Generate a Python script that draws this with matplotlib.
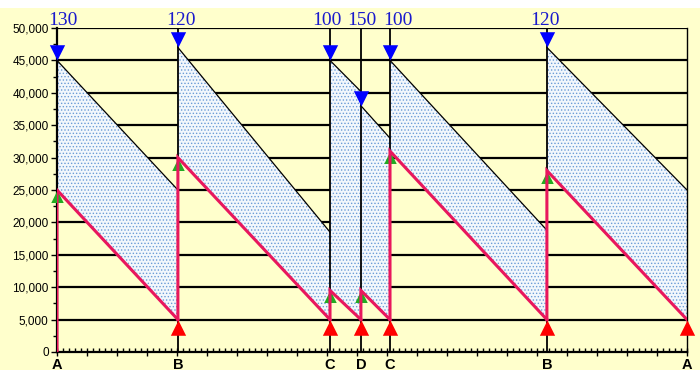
import matplotlib.pyplot as plt
from matplotlib.patches import Rectangle
from matplotlib.ticker import MultipleLocator, FuncFormatter
from matplotlib.transforms import offset_copy

# event positions along the x axis and their labels
event_x = [0, 40.3, 91, 101.3, 111, 163.3, 210]
event_labels = ['A', 'B', 'C', 'D', 'C', 'B', 'A']

# order quantity shown above each replenishment
order_labels = ['130', '120', '100', '150', '100', '120']

# upper line (start value at event i, end value at event i+1)
top_start = [45000, 47000, 45000, 38000, 45000, 47000]
top_end = [25000, 18500, 40200, 33000, 18800, 25000]

# red stock line
red_start = [25000, 30000, 9500, 9500, 31000, 28000]
red_end = [5000, 5000, 5000, 5000, 5000, 5000]

yellow = '#ffffcc'
red = '#e8175d'

plt.rcParams['hatch.linewidth'] = 0.6

fig = plt.figure(figsize=(7, 3.82), dpi=100)
fig.patch.set_facecolor('white')
fig.patches.append(Rectangle((0, 12 / 382), 1, 362 / 382, transform=fig.transFigure,
                             facecolor=yellow, edgecolor='none', zorder=-10))
ax = fig.add_axes([57 / 700, 1 - 352 / 382, 630 / 700, 324 / 382])
ax.set_facecolor(yellow)

ax.set_xlim(event_x[0], event_x[-1])
ax.set_ylim(0, 50000)

# horizontal grid
for v in range(5000, 50001, 5000):
    ax.axhline(v, color='black', lw=1.6, zorder=1)

# shaded bands
for i in range(len(top_start)):
    x0, x1 = event_x[i], event_x[i + 1]
    ax.fill_between([x0, x1], [red_start[i], red_end[i]], [top_start[i], top_end[i]],
                    facecolor='#f2f7fc', edgecolor='#6a9bd6', hatch='.....', lw=0, zorder=2)
    ax.plot([x0, x1], [top_start[i], top_end[i]], color='black', lw=0.9, zorder=3)

# vertical event lines
ax.vlines(event_x[1:-1], 0, 50000, color='black', lw=1.3, zorder=3)

# red stock line with vertical jumps
for i in range(len(red_start)):
    x0, x1 = event_x[i], event_x[i + 1]
    base = 0 if i == 0 else red_end[i - 1]
    ax.plot([x0, x0, x1], [base, red_start[i], red_end[i]], color=red, lw=2.2,
            solid_joinstyle='miter', zorder=4)

up_tri = [(0, 0), (-1, -2), (1, -2)]
down_tri = [(0, 0), (-1, 2), (1, 2)]

ax.plot(event_x[1:], red_end, ls='none', marker=up_tri, ms=22, color='#ff0000',
        mec='none', zorder=6, clip_on=False)
ax.plot(event_x[:-1], red_start, ls='none', marker=up_tri, ms=18, color='#22aa22',
        mec='none', zorder=3.5, clip_on=False)
ax.plot(event_x[:-1], top_start, ls='none', marker=down_tri, ms=22, color='#0000ff',
        mec='none', zorder=6, clip_on=False)

# small horizontal nudges (points) so the crowded labels do not collide
nudge = [4, 2, -2, 1, 6, -1.5]
for x, lab, dx in zip(event_x[:-1], order_labels, nudge):
    tr = offset_copy(ax.get_xaxis_transform(), fig=fig, x=dx, y=0, units='points')
    ax.text(x, 1.009, lab, transform=tr, ha='center', va='baseline',
            fontsize=14, color='#1a1acc', family='Liberation Serif')

for x, lab in zip(event_x, event_labels):
    ax.text(x, -0.02, lab, transform=ax.get_xaxis_transform(), ha='center', va='top',
            fontsize=10.5, fontweight='bold', family='Liberation Sans')

# axes styling
for s in ['left', 'bottom', 'right']:
    ax.spines[s].set_color('black')
ax.spines['left'].set_linewidth(1.6)
ax.spines['bottom'].set_linewidth(1.6)
ax.spines['right'].set_linewidth(1.0)
ax.spines['top'].set_visible(False)

ax.yaxis.set_major_locator(MultipleLocator(5000))
ax.yaxis.set_minor_locator(MultipleLocator(2500))
ax.yaxis.set_major_formatter(FuncFormatter(lambda v, p: f'{int(v):,}'))
ax.tick_params(axis='y', which='major', length=4, width=1, pad=2, labelsize=8.5)
ax.tick_params(axis='y', which='minor', length=3, width=1)
for t in ax.get_yticklabels():
    t.set_family('Liberation Sans')

ax.xaxis.set_major_locator(MultipleLocator(10))
ax.xaxis.set_minor_locator(MultipleLocator(2))
ax.tick_params(axis='x', which='major', direction='inout', length=6, width=1, labelbottom=False)
ax.tick_params(axis='x', which='minor', direction='in', length=3, width=1)

fig.savefig('out.png', dpi=100)
